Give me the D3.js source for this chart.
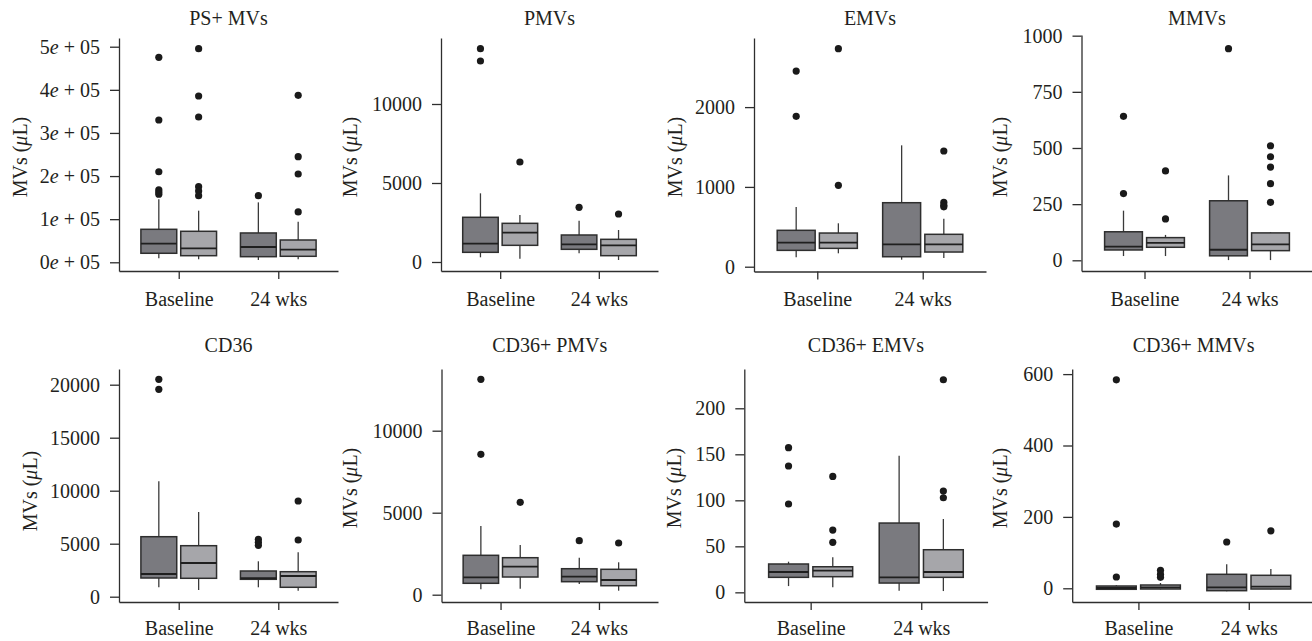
<!DOCTYPE html>
<html>
<head>
<meta charset="utf-8">
<script src="https://cdn.jsdelivr.net/npm/d3@7"></script>
<style>
  html, body { margin: 0; padding: 0; background: #ffffff; }
  svg { display: block; }
</style>
</head>
<body>
<svg id="chart" width="1312" height="641"></svg>
<script>
// ---------------- DATA ----------------
const groups = ["Baseline", "24 wks"];
const titles = ["PS+ MVs", "PMVs", "EMVs", "MMVs", "CD36", "CD36+ PMVs", "CD36+ EMVs", "CD36+ MMVs"];
// each box: [lower whisker, Q1, median, Q3, upper whisker]
// order: Baseline (dark), Baseline (light), 24 wks (dark), 24 wks (light)
const psMVsBox = [[9300, 20900, 43100, 76500, 146000], [7000, 15300, 32500, 71900, 119700], [5300, 13000, 35500, 68000, 139000], [7000, 13900, 29200, 51700, 94000]];
const psMVsOut = [[475400, 330000, 210000, 168000, 163000, 158000], [495400, 385700, 337000, 175300, 165400, 154500], [154500], [387300, 244900, 204800, 116700]];
const pmvsBox = [[297, 612, 1160, 2829, 4346], [210, 1055, 1856, 2447, 2975], [550, 802, 1118, 1709, 2616], [127, 400, 1055, 1435, 2025]];
const pmvsOut = [[13500, 12720], [6330], [3460], [3038]];
const emvsBox = [[118, 205, 301, 456, 748], [168, 230, 301, 422, 544], [88, 125, 281, 802, 1521], [109, 184, 281, 406, 601]];
const emvsOut = [[2452, 1885], [2732, 1020], [], [1450, 805, 770, 750]];
const mmvsBox = [[19, 46, 61, 127, 221], [19, 58, 78, 101, 113], [1, 20, 47, 265, 378], [1, 43, 71, 122, 125]];
const mmvsOut = [[641, 297], [398, 184], [942], [510, 461, 415, 341, 258]];
const cd36Box = [[887, 1764, 2140, 5660, 10887], [632, 1736, 3179, 4811, 7991], [887, 1640, 1760, 2425, 3340], [566, 887, 1953, 2358, 4189]];
const cd36Out = [[20509, 19566], [], [5415, 5132, 4849], [9028, 5349]];
const cd36pmvBox = [[329, 695, 1061, 2402, 4189], [366, 1079, 1707, 2256, 3030], [652, 793, 1098, 1585, 2256], [244, 549, 896, 1549, 1976]];
const cd36pmvOut = [[13134, 8561], [5634], [3293], [3152]];
const cd36emvBox = [[6.8, 16.3, 22.1, 30.8, 33.3], [5.4, 17, 23.5, 27.8, 38], [1.7, 10.1, 16.3, 75.3, 148.5], [1.4, 16.3, 22.1, 46.3, 79.7]];
const cd36emvOut = [[157.2, 137.3, 96], [126, 67.7, 54.3], [], [231, 110, 102.8]];
const cd36mmvBox = [[-3, -2.8, 0.8, 6.4, 8.4], [-3, -2, 2.8, 9.2, 14.8], [-8, -6.7, 2.8, 39.2, 67], [-3, -2, 4.5, 36.4, 54]];
const cd36mmvOut = [[584, 180, 31.7], [50.4, 39, 30.8], [129.7], [161]];

const yTicks = [
  [0, 100000, 200000, 300000, 400000, 500000],
  [0, 5000, 10000],
  [0, 1000, 2000],
  [0, 250, 500, 750, 1000],
  [0, 5000, 10000, 15000, 20000],
  [0, 5000, 10000],
  [0, 50, 100, 150, 200],
  [0, 200, 400, 600]
];
const yDomains = [
  [-20200, 520200], [-570, 14177], [-60, 2866], [-47.6, 1003],
  [-500, 21481], [-445, 13762], [-10.5, 242.7], [-38.4, 614.3]
];
const boxes = [psMVsBox, pmvsBox, emvsBox, mmvsBox, cd36Box, cd36pmvBox, cd36emvBox, cd36mmvBox];
const outliers = [psMVsOut, pmvsOut, emvsOut, mmvsOut, cd36Out, cd36pmvOut, cd36emvOut, cd36mmvOut];
const yLabel = "MVs";

// ---------------- LAYOUT ----------------
const layout = [
  { x0: 119, x1: 338, top: 38, bottom: 271, labelX: 27, titleY: 25, xLabY: 306, midY: 157 },
  { x0: 441, x1: 658, top: 38, bottom: 271, labelX: 357, titleY: 25, xLabY: 306, midY: 157 },
  { x0: 754, x1: 986, top: 38, bottom: 271.5, labelX: 682, titleY: 25, xLabY: 306, midY: 157 },
  { x0: 1081.5, x1: 1312.5, top: 35, bottom: 271, labelX: 1007, titleY: 25, xLabY: 306, midY: 157 },
  { x0: 119, x1: 338, top: 369, bottom: 602, labelX: 37, titleY: 352, xLabY: 635, midY: 491 },
  { x0: 441.5, x1: 658, top: 369, bottom: 602, labelX: 357, titleY: 352, xLabY: 635, midY: 488 },
  { x0: 744.3, x1: 987.6, top: 369, bottom: 602, labelX: 681, titleY: 352, xLabY: 635, midY: 488 },
  { x0: 1072.2, x1: 1315, top: 369, bottom: 602, labelX: 1007, titleY: 352, xLabY: 635, midY: 488 }
];
const fills = ["#7a7a7f", "#a6a6aa"];
const stroke = "#2e2e2e";
const FONT = 20;
const FAMILY = "'Liberation Serif', 'Noto Serif', Tinos, 'Nimbus Roman', 'FreeSerif', 'Times New Roman', Georgia, 'DejaVu Serif', serif";

const svg = d3.select("#chart").attr("font-family", FAMILY);

layout.forEach((L, i) => {
  const g = svg.append("g");
  const x = d3.scaleLinear().domain([0.4, 2.6]).range([L.x0, L.x1]);
  const y = d3.scaleLinear().domain(yDomains[i]).range([L.bottom, L.top]);
  const unit = x(2) - x(1);
  const bw = 0.36 * unit;

  // y axis
  const ya = g.append("g").attr("transform", `translate(${L.x0},0)`)
    .call(d3.axisLeft(y).tickValues(yTicks[i]).tickSize(9).tickSizeOuter(0).tickPadding(10)
      .tickFormat(d => i === 0 ? "" : String(d)));
  ya.attr("font-family", FAMILY).attr("font-size", FONT);
  ya.select(".domain").attr("stroke", stroke).attr("stroke-width", 1.3);
  ya.selectAll(".tick line").attr("stroke", stroke).attr("stroke-width", 1.3);
  ya.selectAll(".tick text").attr("font-size", FONT).attr("font-family", FAMILY).attr("fill", "#231f20");
  if (i === 0) {
    ya.selectAll(".tick text").each(function (d) {
      const t = d3.select(this);
      const mant = Math.round(d / 100000);
      t.append("tspan").text(mant);
      t.append("tspan").attr("font-style", "italic").text("e");
      t.append("tspan").text(" + 05");
    });
  }

  // x axis
  const xa = g.append("g").attr("transform", `translate(0,${L.bottom})`)
    .call(d3.axisBottom(x).tickValues([1, 2]).tickSize(8).tickSizeOuter(0)
      .tickFormat((d) => groups[d - 1]));
  xa.attr("font-family", FAMILY).attr("font-size", FONT);
  xa.select(".domain").attr("stroke", stroke).attr("stroke-width", 1.3);
  xa.selectAll(".tick line").attr("stroke", stroke).attr("stroke-width", 1.3);
  xa.selectAll(".tick text").attr("font-size", FONT).attr("font-family", FAMILY)
    .attr("fill", "#231f20").attr("dy", null).attr("y", L.xLabY - L.bottom);

  // title
  g.append("text").attr("x", (L.x0 + L.x1) / 2).attr("y", L.titleY)
    .attr("text-anchor", "middle").attr("font-size", FONT).attr("font-family", FAMILY)
    .attr("fill", "#231f20").text(titles[i]);

  // y label
  const lab = g.append("text").attr("transform", `translate(${L.labelX},${L.midY}) rotate(-90)`)
    .attr("text-anchor", "middle").attr("font-size", FONT).attr("font-family", FAMILY)
    .attr("fill", "#231f20");
  lab.append("tspan").text(yLabel + " (");
  lab.append("tspan").attr("font-style", "italic").text("\u03BC");
  lab.append("tspan").text("L)");

  // boxes
  boxes[i].forEach((b, j) => {
    const grp = Math.floor(j / 2) + 1;
    const cx = x(grp + (j % 2 === 0 ? -0.2 : 0.2));
    const [lo, q1, med, q3, hi] = b;
    const bg = g.append("g");
    bg.append("line").attr("x1", cx).attr("x2", cx).attr("y1", y(q3)).attr("y2", y(hi))
      .attr("stroke", "#3a3a3a").attr("stroke-width", 1.3);
    bg.append("line").attr("x1", cx).attr("x2", cx).attr("y1", y(q1)).attr("y2", y(lo))
      .attr("stroke", "#3a3a3a").attr("stroke-width", 1.3);
    bg.append("rect").attr("x", cx - bw / 2).attr("width", bw)
      .attr("y", y(q3)).attr("height", Math.max(0.5, y(q1) - y(q3)))
      .attr("fill", fills[j % 2]).attr("stroke", stroke).attr("stroke-width", 1.5);
    bg.append("line").attr("x1", cx - bw / 2).attr("x2", cx + bw / 2)
      .attr("y1", y(med)).attr("y2", y(med))
      .attr("stroke", "#1f1f1f").attr("stroke-width", 1.8);
    outliers[i][j].forEach(v => {
      bg.append("circle").attr("cx", cx).attr("cy", y(v)).attr("r", 3.6).attr("fill", "#1a1a1a");
    });
  });
});
</script>
</body>
</html>
